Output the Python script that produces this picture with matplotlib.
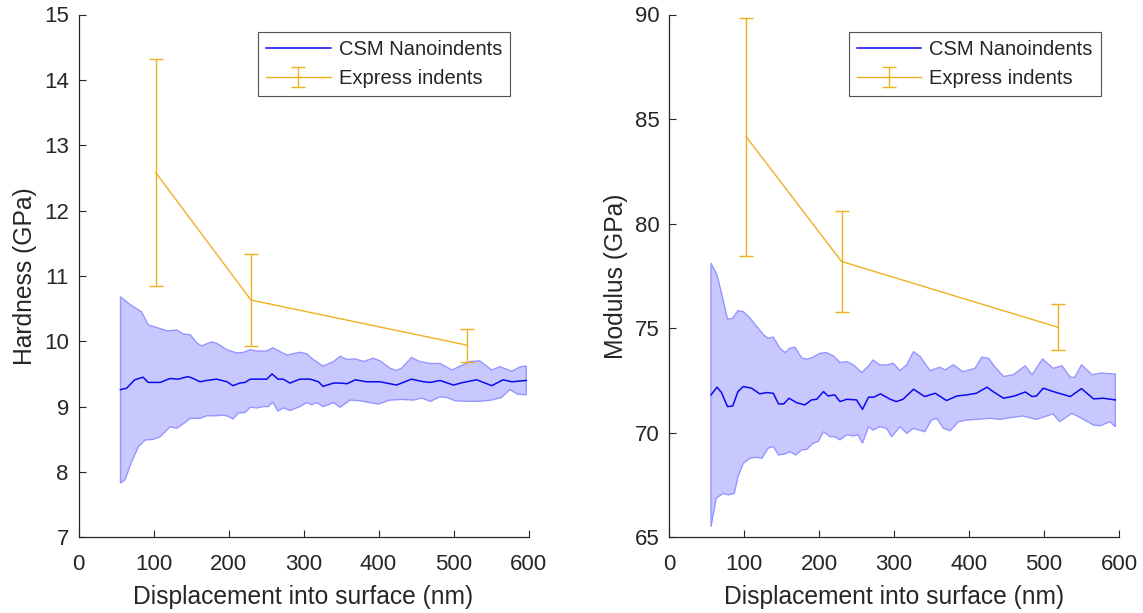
import matplotlib
matplotlib.use("Agg")
import matplotlib.pyplot as plt
import numpy as np

plt.rcParams['font.family'] = ['Liberation Sans', 'DejaVu Sans']

# Express indents (mean +/- std)
express_x = [103, 230, 518]
express_h = [12.58, 10.63, 9.94]
express_h_err = [1.74, 0.71, 0.25]
express_m = [84.15, 78.19, 75.05]
express_m_err = [5.7, 2.4, 1.1]

# CSM hardness: mean, upper and lower envelope
h_mean_x = [56, 64, 75, 86, 93, 109, 122, 133, 146, 153, 162, 171, 184, 198, 206, 215, 222, 229,
            242, 251, 258, 266, 273, 282, 295, 309, 320, 326, 340, 349, 358, 369, 384, 402, 424,
            444, 460, 469, 482, 500, 513, 531, 551, 566, 578, 597]
h_mean = [9.26, 9.28, 9.41, 9.45, 9.37, 9.37, 9.43, 9.42, 9.46, 9.43, 9.38, 9.40, 9.42, 9.38, 9.32,
          9.36, 9.37, 9.42, 9.42, 9.42, 9.50, 9.42, 9.42, 9.36, 9.42, 9.42, 9.38, 9.31, 9.36, 9.36,
          9.35, 9.41, 9.38, 9.38, 9.33, 9.42, 9.38, 9.37, 9.40, 9.33, 9.37, 9.41, 9.32, 9.41, 9.38, 9.40]
h_up_x = [56, 69, 84, 93, 118, 131, 140, 149, 158, 164, 178, 184, 198, 211, 220, 229, 238, 251, 259,
          269, 278, 295, 304, 313, 326, 340, 349, 358, 369, 380, 393, 402, 415, 424, 431, 444, 455,
          469, 482, 498, 513, 522, 535, 551, 562, 578, 589, 597]
h_up = [10.68, 10.56, 10.45, 10.25, 10.16, 10.17, 10.11, 10.10, 9.97, 9.93, 9.99, 9.97, 9.87, 9.82,
        9.83, 9.87, 9.85, 9.85, 9.90, 9.84, 9.79, 9.83, 9.81, 9.72, 9.62, 9.69, 9.77, 9.72, 9.73,
        9.69, 9.74, 9.70, 9.59, 9.55, 9.59, 9.75, 9.69, 9.66, 9.66, 9.56, 9.64, 9.69, 9.70, 9.56,
        9.61, 9.54, 9.61, 9.62]
h_lo_x = [56, 62, 71, 80, 89, 100, 109, 122, 131, 140, 149, 162, 171, 184, 193, 200, 206, 213, 222,
          229, 238, 246, 253, 259, 266, 273, 282, 295, 304, 311, 318, 326, 340, 349, 362, 375, 389,
          400, 415, 431, 446, 458, 469, 482, 491, 502, 518, 533, 551, 564, 575, 586, 597]
h_lo = [7.83, 7.88, 8.16, 8.39, 8.49, 8.50, 8.54, 8.69, 8.67, 8.74, 8.82, 8.82, 8.86, 8.86, 8.87,
        8.85, 8.81, 8.90, 8.91, 8.99, 8.98, 9.00, 9.00, 9.07, 8.93, 8.98, 8.94, 9.00, 9.06, 9.03,
        9.06, 9.00, 9.06, 8.99, 9.10, 9.09, 9.06, 9.04, 9.10, 9.11, 9.10, 9.13, 9.08, 9.15, 9.14,
        9.09, 9.08, 9.08, 9.10, 9.14, 9.26, 9.19, 9.18]

# CSM modulus: mean, upper and lower envelope
m_mean_x = [56, 64, 70, 78, 85, 92, 99, 110, 121, 130, 139, 146, 153, 160, 170, 181, 190, 197, 206,
            212, 221, 228, 237, 250, 258, 266, 273, 282, 295, 303, 312, 326, 341, 355, 370, 384, 397,
            410, 424, 432, 446, 461, 475, 484, 490, 499, 515, 535, 550, 566, 579, 595]
m_mean = [71.81, 72.18, 71.92, 71.25, 71.28, 71.97, 72.21, 72.13, 71.86, 71.92, 71.89, 71.38, 71.38,
          71.65, 71.44, 71.33, 71.57, 71.60, 71.97, 71.76, 71.81, 71.49, 71.60, 71.57, 71.12, 71.70,
          71.70, 71.86, 71.60, 71.49, 71.60, 72.08, 71.73, 71.89, 71.54, 71.76, 71.81, 71.89, 72.18,
          71.97, 71.65, 71.76, 71.95, 71.73, 71.76, 72.13, 71.94, 71.73, 72.11, 71.62, 71.65, 71.57]
m_up_x = [56, 64, 70, 78, 85, 92, 99, 108, 117, 126, 132, 139, 148, 155, 161, 168, 177, 184, 192,
          201, 210, 219, 228, 237, 246, 257, 266, 272, 281, 290, 299, 308, 317, 326, 335, 348, 361,
          368, 379, 392, 408, 417, 426, 435, 446, 459, 475, 484, 498, 512, 524, 535, 541, 550, 564,
          575, 595]
m_up = [78.11, 77.55, 76.67, 75.43, 75.48, 75.84, 75.79, 75.48, 75.08, 74.68, 74.52, 74.57, 74.04,
        73.83, 74.04, 74.09, 73.57, 73.52, 73.61, 73.80, 73.83, 73.68, 73.36, 73.40, 73.24, 72.88,
        73.19, 73.48, 73.24, 73.24, 73.32, 72.97, 73.25, 73.88, 73.64, 72.97, 73.13, 73.00, 73.25,
        72.92, 73.08, 73.61, 73.56, 73.13, 72.69, 72.77, 73.20, 72.77, 73.53, 73.08, 73.20, 72.65,
        72.65, 73.25, 72.77, 72.85, 72.81]
m_lo_x = [56, 63, 72, 79, 87, 92, 99, 108, 117, 124, 132, 139, 146, 155, 161, 169, 177, 184, 192,
          199, 206, 215, 221, 228, 237, 246, 252, 258, 266, 272, 281, 290, 297, 308, 317, 326, 341,
          350, 357, 366, 375, 386, 397, 410, 428, 441, 459, 472, 490, 512, 521, 537, 550, 566, 575,
          588, 595]
m_lo = [65.51, 66.87, 67.10, 67.03, 67.10, 67.90, 68.54, 68.78, 68.83, 68.78, 69.26, 69.34, 68.94,
        68.99, 69.10, 68.94, 69.18, 69.21, 69.50, 69.58, 70.05, 69.81, 69.81, 69.66, 69.90, 69.85,
        69.90, 69.50, 70.29, 70.13, 70.29, 70.21, 69.81, 70.29, 69.97, 70.21, 70.05, 70.61, 70.69,
        70.21, 70.10, 70.53, 70.61, 70.64, 70.69, 70.64, 70.74, 70.80, 70.64, 70.90, 70.53, 70.93,
        70.69, 70.37, 70.33, 70.53, 70.29]

blue = '#0a0af0'
fill_c = '#c8c8ff'
edge_c = '#9696ff'
orange = '#edb120'
dark = '#262626'

fig = plt.figure(figsize=(11.43, 6.13), dpi=100)
ax1 = fig.add_axes([78.5 / 1143, 1 - 537.3 / 613, 450 / 1143, 522.8 / 613])
ax2 = fig.add_axes([669 / 1143, 1 - 537.3 / 613, 450 / 1143, 522.8 / 613])

panels = [
    (ax1, h_up_x, h_up, h_lo_x, h_lo, h_mean_x, h_mean, express_h, express_h_err,
     'Hardness (GPa)', (7, 15), np.arange(7, 16, 1)),
    (ax2, m_up_x, m_up, m_lo_x, m_lo, m_mean_x, m_mean, express_m, express_m_err,
     'Modulus (GPa)', (65, 90), np.arange(65, 91, 5)),
]

for ax, ux, uy, lx, ly, mx, my, ey, ee, ylab, ylim, yt in panels:
    px = np.r_[ux, lx[::-1]]
    py = np.r_[uy, ly[::-1]]
    ax.fill(px, py, facecolor=fill_c, edgecolor=edge_c, linewidth=1.0, zorder=1)
    ax.plot(mx, my, color=blue, linewidth=1.1, label='CSM Nanoindents', zorder=3)
    ax.errorbar(express_x, ey, yerr=ee, color=orange, linewidth=1.0, elinewidth=1.0,
                capsize=5, capthick=1.0, label='Express indents', zorder=2)
    ax.set_xlim(0, 600)
    ax.set_ylim(*ylim)
    ax.set_xticks(np.arange(0, 601, 100))
    ax.set_yticks(yt)
    ax.set_xlabel('Displacement into surface (nm)', fontsize=17.7, color=dark, labelpad=7)
    ax.set_ylabel(ylab, fontsize=17.7, color=dark, labelpad=5)
    ax.tick_params(direction='in', length=5, width=0.8, labelsize=16, colors=dark, pad=7)
    ax.tick_params(axis='x', pad=12)
    for s in ['top', 'right']:
        ax.spines[s].set_visible(False)
    for s in ['left', 'bottom']:
        ax.spines[s].set_color(dark)
        ax.spines[s].set_linewidth(0.9)
    leg = ax.legend(loc='upper right', bbox_to_anchor=(0.959, 0.967), fontsize=14.5,
                    frameon=True, fancybox=False, edgecolor=dark, handlelength=3.2,
                    borderpad=0.4, labelspacing=0.5, handletextpad=0.4, borderaxespad=0)
    leg.get_frame().set_linewidth(0.8)
    for t in leg.get_texts():
        t.set_color(dark)

fig.savefig('out.png', dpi=100)
